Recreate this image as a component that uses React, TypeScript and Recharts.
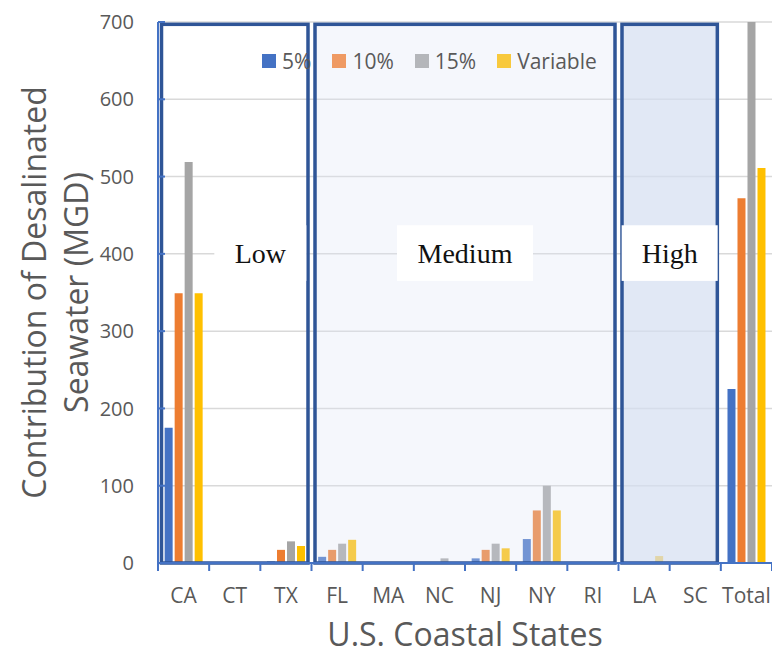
import React from "react";
import {
  BarChart, Bar, XAxis, YAxis, CartesianGrid, ReferenceArea, Legend
} from "recharts";

// Contribution of desalinated seawater (MGD) per coastal state
const STATES = ["CA", "CT", "TX", "FL", "MA", "NC", "NJ", "NY", "RI", "LA", "SC", "Total"];
const P5 = [175, 0, 2, 8, 0, 0, 6, 31, 0, 0, 0, 225];
const P10 = [349, 0, 17, 17, 0, 1, 17, 68, 0, 0, 0, 472];
const P15 = [519, 0, 28, 25, 0, 6, 25, 100, 0, 0, 0, 715];
const VAR = [349, 1, 22, 30, 1, 1, 19, 68, 1, 9, 1, 511];

const SERIES = ["5%", "10%", "15%", "Variable"];
const KEYS = ["p5", "p10", "p15", "var"];
const COLORS = ["#4472c4", "#ed7d31", "#a5a5a5", "#ffc000"];
const LEGEND_COLORS = ["#4472c4", "#ef9a63", "#b4b6ba", "#f8c93d"];

const Y_TICKS = [0, 100, 200, 300, 400, 500, 600, 700];

// cost tiers: Low / Medium / High
const REGIONS = ["Low", "Medium", "High"];
const REGION_FROM = ["CA", "FL", "LA"];
const REGION_TO = ["TX", "RI", "SC"];
const REGION_TOP = 697;
const LABEL_FROM = ["CT", "FL", "LA"];
const LABEL_TO = ["TX", "RI", "SC"];
const LABEL_BOTTOM = 365;
const LABEL_TOP = 437;

// styling for the tier boxes
const REGION_FILL = ["#ffffff", "#dfe6f5", "#d4def1"];
const REGION_OPACITY = [0, 0.3, 0.7];
const LABEL_W = [92, 136, 96];
const BOX_INSET = 3.5;

const data = STATES.map((state, i) => ({
  state,
  p5: P5[i],
  p10: P10[i],
  p15: P15[i],
  var: VAR[i],
}));

const GREY = "#595959";
const AXIS_BLUE = "#4472c4";
const BOX_BLUE = "#2f5597";
const TICK_MARGIN = 25;

function YTitle({ viewBox }: any) {
  const cy = viewBox.y + viewBox.height / 2;
  const x = viewBox.x;
  return (
    <g fill={GREY} fontSize={32}>
      <text transform={`translate(${x + 46},${cy}) rotate(-90)`} textAnchor="middle">
        Contribution of Desalinated
      </text>
      <text transform={`translate(${x + 88},${cy}) rotate(-90)`} textAnchor="middle">
        Seawater (MGD)
      </text>
    </g>
  );
}

// category label + boundary tick marks between categories
function StateTick(props: any) {
  const { x, y, payload, index, visibleTicksCount } = props;
  const half = payload.offset ?? 25.6;
  const axisY = y - TICK_MARGIN;
  return (
    <g>
      <line x1={x - half} x2={x - half} y1={axisY} y2={axisY + 8} stroke={AXIS_BLUE} strokeWidth={2} />
      {index === visibleTicksCount - 1 && (
        <line x1={x + half} x2={x + half} y1={axisY} y2={axisY + 8} stroke={AXIS_BLUE} strokeWidth={2} />
      )}
      <text x={x} y={y} dy="0.71em" textAnchor="middle" fill={GREY} fontSize={21}>
        {payload.value}
      </text>
    </g>
  );
}

function LegendBox() {
  return (
    <div style={{ display: "flex", alignItems: "center", fontSize: 21, color: GREY, lineHeight: "26px" }}>
      {SERIES.map((s, i) => (
        <div key={s} style={{ display: "flex", alignItems: "center", marginRight: 21 }}>
          <span style={{ width: 14, height: 14, background: LEGEND_COLORS[i], marginRight: 6, display: "inline-block" }} />
          {s}
        </div>
      ))}
    </div>
  );
}

export default function App() {
  return (
    <div style={{ position: "absolute", left: 0, top: 0, fontFamily: "'Open Sans', sans-serif", background: "#fff" }}>
      <BarChart
        width={772}
        height={655}
        data={data}
        margin={{ top: 22, right: 0, bottom: 0, left: 0 }}
        barGap={2}
        barCategoryGap="13%"
      >
        <CartesianGrid vertical={false} stroke="#d9d9d9" strokeWidth={1.5} />
        <Legend
          layout="horizontal"
          verticalAlign="middle"
          align="center"
          content={<LegendBox />}
          wrapperStyle={{ top: 48, left: 262, width: "auto" }}
        />
        <XAxis
          dataKey="state"
          interval={0}
          height={92}
          axisLine={{ stroke: AXIS_BLUE, strokeWidth: 2 }}
          tickLine={false}
          tickSize={0}
          tickMargin={TICK_MARGIN}
          tick={<StateTick />}
          label={{ value: "U.S. Coastal States", position: "insideBottom", offset: 9, fill: GREY, fontSize: 32 }}
        />
        <YAxis
          domain={[0, 700]}
          ticks={Y_TICKS}
          allowDataOverflow
          width={158}
          tickSize={-7}
          tickMargin={31}
          axisLine={{ stroke: AXIS_BLUE, strokeWidth: 2 }}
          tickLine={{ stroke: AXIS_BLUE, strokeWidth: 2 }}
          tick={{ fill: GREY, fontSize: 20 }}
          label={(props: any) => <YTitle viewBox={props.viewBox} />}
        />
        {KEYS.map((k, i) => (
          <Bar key={k} dataKey={k} name={SERIES[i]} fill={COLORS[i]} isAnimationActive={false} />
        ))}
        {REGIONS.map((r, i) => (
          <ReferenceArea
            key={r}
            x1={REGION_FROM[i]}
            x2={REGION_TO[i]}
            y1={0}
            y2={REGION_TOP}
            ifOverflow="visible"
            zIndex={350}
            shape={(p: any) => (
              <rect
                x={p.x + BOX_INSET}
                y={p.y}
                width={p.width - 2 * BOX_INSET}
                height={p.height}
                fill={REGION_FILL[i]}
                fillOpacity={REGION_OPACITY[i]}
                stroke={BOX_BLUE}
                strokeWidth={3.5}
              />
            )}
          />
        ))}
        {REGIONS.map((r, i) => (
          <ReferenceArea
            key={"lbl" + r}
            x1={LABEL_FROM[i]}
            x2={LABEL_TO[i]}
            y1={LABEL_BOTTOM}
            y2={LABEL_TOP}
            ifOverflow="visible"
            zIndex={360}
            shape={(p: any) => {
              const cx = p.x + p.width / 2;
              const cy = p.y + p.height / 2;
              return (
                <g>
                  <rect x={cx - LABEL_W[i] / 2} y={p.y} width={LABEL_W[i]} height={p.height} fill="#ffffff" />
                  <text x={cx} y={cy} dy="0.35em" textAnchor="middle" fill="#111"
                    fontSize={28} fontFamily="'Liberation Serif', serif">
                    {r}
                  </text>
                </g>
              );
            }}
          />
        ))}
      </BarChart>
    </div>
  );
}
